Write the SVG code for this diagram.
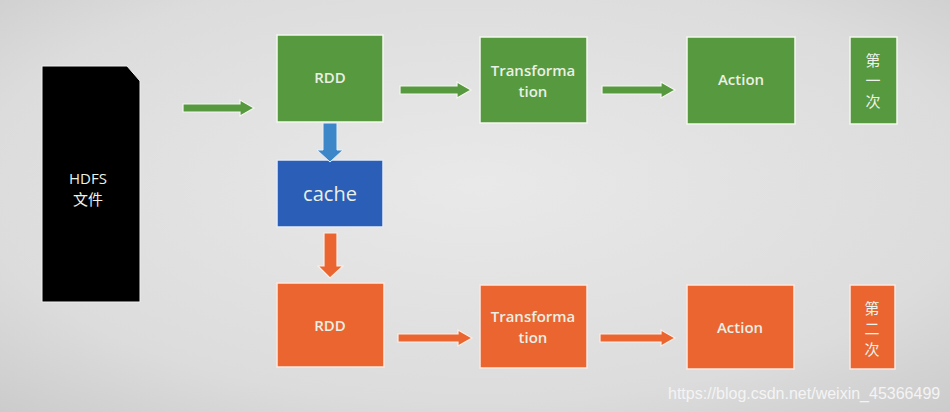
<svg xmlns="http://www.w3.org/2000/svg" width="950" height="412" viewBox="0 0 950 412">
<defs>
<radialGradient id="bg" cx="0.5" cy="0.45" r="0.75">
<stop offset="0" stop-color="#e9e9e9"/>
<stop offset="0.7" stop-color="#dcdcdc"/>
<stop offset="1" stop-color="#cbcbcb"/>
</radialGradient>
<style>
.g{fill:#57993e;stroke:#f2f7ee;stroke-width:1.5}
.o{fill:#eb6530;stroke:#fbe9df;stroke-width:1.5}
.b{fill:#2b5eb6;stroke:#e4ecf7;stroke-width:1.5}
.t{font-family:"Open Sans","Liberation Sans","Noto Sans CJK SC",sans-serif;font-size:15px;font-weight:600;fill:#e9f0e4;text-anchor:middle}
.c{font-family:"Noto Sans CJK SC",sans-serif;font-size:15px;fill:#eef3ea;text-anchor:middle}
.ag{fill:#57993e;stroke:#f4f7f1;stroke-width:1.2}
.ao{fill:#eb6530;stroke:#fbeee6;stroke-width:1.2}
.ab{fill:#3d86c8;stroke:#e8f0f8;stroke-width:1}
</style>
</defs>
<rect width="950" height="412" fill="url(#bg)"/>

<g id="hdfs">
<path d="M42,66 L127,66 L140,81 L140,302 L42,302 Z" fill="#000" stroke="#f0f0f0" stroke-width="1"/>
<text class="t" x="88" y="184" style="font-weight:400">HDFS</text>
<text class="c" x="88" y="205">文件</text>
</g>

<g id="rdd1"><rect class="g" x="277" y="35" width="106" height="87"/><text class="t" x="330" y="83">RDD</text></g>
<g id="trans1"><rect class="g" x="480" y="37" width="107" height="86"/><text class="t" x="533" y="76">Transforma</text><text class="t" x="533" y="97">tion</text></g>
<g id="action1"><rect class="g" x="687" y="37" width="108" height="87"/><text class="t" x="741" y="85">Action</text></g>
<g id="first"><rect class="g" x="850" y="37" width="47" height="87"/><text class="c" x="873" y="66">第</text><text class="c" x="873" y="86">一</text><text class="c" x="873" y="107">次</text></g>

<g id="cache"><rect class="b" x="277" y="160" width="106" height="67"/><text class="t" x="330" y="201" style="font-size:20px;font-weight:500">cache</text></g>

<g id="rdd2"><rect class="o" x="277" y="283" width="107" height="84"/><text class="t" x="330" y="331">RDD</text></g>
<g id="trans2"><rect class="o" x="480" y="285" width="107" height="83"/><text class="t" x="533" y="322">Transforma</text><text class="t" x="533" y="343">tion</text></g>
<g id="action2"><rect class="o" x="687" y="285" width="107" height="84"/><text class="t" x="740" y="333">Action</text></g>
<g id="second"><rect class="o" x="850" y="285" width="45" height="84"/><text class="c" x="872" y="314">第</text><text class="c" x="872" y="334">二</text><text class="c" x="872" y="355">次</text></g>

<g id="connectors">
<path class="ag" d="M183,104 L240,104 L240,100 L254,108 L240,116 L240,112 L183,112 Z"/>
<path class="ag" d="M400,86 L457,86 L457,82 L471,90 L457,98 L457,94 L400,94 Z"/>
<path class="ag" d="M602,86 L661,86 L661,82 L675,90 L661,98 L661,94 L602,94 Z"/>
<path class="ab" d="M323,123 L337,123 L337,150 L343,150 L330,162 L317,150 L323,150 Z"/>
<path class="ao" d="M324,233 L337,233 L337,266 L343,266 L330,278 L318,266 L324,266 Z"/>
<path class="ao" d="M398,334 L458,334 L458,330 L472,338 L458,346 L458,342 L398,342 Z"/>
<path class="ao" d="M600,334 L661,334 L661,330 L675,338 L661,346 L661,342 L600,342 Z"/>
</g>

<text x="668" y="399" style="font-family:'Liberation Sans',sans-serif;font-size:16px;fill:#f4f4f4">https://blog.csdn.net/weixin_45366499</text>
</svg>
